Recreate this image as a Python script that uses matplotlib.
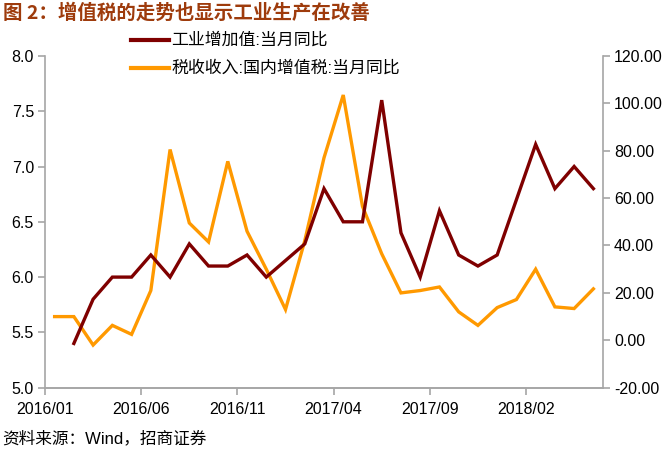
import numpy as np
import matplotlib
matplotlib.use("Agg")
import matplotlib.pyplot as plt
from matplotlib.lines import Line2D
from matplotlib.ticker import FormatStrFormatter, MultipleLocator

plt.rcParams['font.family'] = ['Liberation Sans', 'Noto Sans CJK SC', 'DejaVu Sans']

# Months 2016/01 .. 2018/05
months = [f"{y}/{m:02d}" for y in (2016, 2017, 2018) for m in range(1, 13)][:29]

# 工业增加值:当月同比 (left axis); NaN = no value for that month
industry = [np.nan, 5.4, 5.8, 6.0, 6.0, 6.2, 6.0, 6.3, 6.1, 6.1,
            6.2, 6.0, np.nan, 6.3, 6.8, 6.5, 6.5, 7.6, 6.4, 6.0,
            6.6, 6.2, 6.1, 6.2, np.nan, 7.2, 6.8, 7.0, 6.8]

# 税收收入:国内增值税:当月同比 (right axis)
vat = [10.0, 10.0, -2.0, 6.3, 2.5, 21.0, 80.5, 49.5, 41.5, 75.5,
       46.0, 30.0, 13.0, 42.0, 77.0, 103.5, 56.5, 36.5, 20.0, 21.0,
       22.5, 12.0, 6.3, 13.8, 17.2, 30.0, 14.1, 13.4, 21.7]

tick_labels = ["2016/01", "2016/06", "2016/11", "2017/04", "2017/09", "2018/02"]

name_ind = "工业增加值:当月同比"
name_vat = "税收收入:国内增值税:当月同比"
title = "图 2：增值税的走势也显示工业生产在改善"
source = "资料来源：Wind，招商证券"

c_ind = '#7F0000'
c_vat = '#FF9900'

W, H = 665, 451
fig = plt.figure(figsize=(W / 100, H / 100), dpi=100)
ax = fig.add_axes([45 / W, 1 - 387.7 / H, (603 - 45) / W, (387.7 - 55.9) / H])
ax2 = ax.twinx()

x = np.arange(len(months)) + 0.5
ind = np.array(industry, dtype=float)
mask = ~np.isnan(ind)
ax.plot(x[mask], ind[mask], color=c_ind, lw=2.4, solid_joinstyle='miter', zorder=3)
ax2.plot(x, vat, color=c_vat, lw=2.4, solid_joinstyle='miter', zorder=2)
ax.set_zorder(ax2.get_zorder() + 1)
ax.patch.set_visible(False)

ax.set_xlim(0, len(months))
pos = [months.index(t) for t in tick_labels]
ax.set_xticks(pos)
ax.set_xticklabels(tick_labels)

ax.set_ylim(5.0, 8.0)
ax.yaxis.set_major_locator(MultipleLocator(0.5))
ax.yaxis.set_major_formatter(FormatStrFormatter('%.1f'))
ax2.set_ylim(-20, 120)
ax2.yaxis.set_major_locator(MultipleLocator(20))
ax2.yaxis.set_major_formatter(FormatStrFormatter('%.2f'))

spine_c = '#A6A6A6'
for a in (ax, ax2):
    a.spines['top'].set_visible(False)
    for s in ('left', 'right', 'bottom'):
        a.spines[s].set_color(spine_c)
        a.spines[s].set_linewidth(1.2)
    a.tick_params(axis='both', which='major', direction='out', length=5,
                  color=spine_c, width=1.2, labelsize=11.5, labelcolor='black', pad=3)
ax.spines['right'].set_visible(False)
ax2.spines['left'].set_visible(False)
ax.tick_params(axis='x', pad=5)

fig.text(3 / W, 1 - 13 / H, title, fontsize=14, fontweight='bold', color='#9E3B0C',
         va='center', ha='left', family=['Noto Sans CJK SC', 'DejaVu Sans'])
fig.text(2 / W, 1 - 438 / H, source, fontsize=12, color='black', va='center', ha='left')

# legend (drawn above the plot area)
for yy, col, name in ((40, c_ind, name_ind), (68, c_vat, name_vat)):
    fig.add_artist(Line2D([131 / W, 169 / W], [1 - yy / H, 1 - yy / H],
                          color=col, lw=3.0, transform=fig.transFigure))
    fig.text(171 / W, 1 - yy / H, name, fontsize=12.2, va='center', ha='left')

fig.savefig('out.png', dpi=100)
